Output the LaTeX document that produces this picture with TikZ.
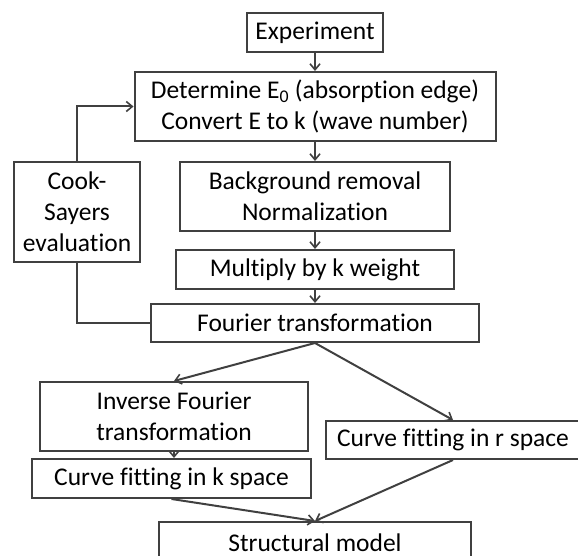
\documentclass[tikz,border=0pt]{standalone}
\usepackage{fontspec}
\setmainfont{Carlito}[Ligatures=NoCommon]
\usetikzlibrary{arrows.meta}
\definecolor{lc}{HTML}{404040}
\tikzset{
  box/.style={draw=lc, line width=2pt, inner sep=0pt, align=center, font=\fontsize{25.5}{31}\selectfont, text=black},
  arr/.style={draw=lc, line width=2pt, -{Straight Barb[length=6pt,width=10pt,line width=1.6pt]}},
  ln/.style={draw=lc, line width=2pt}
}
\begin{document}
\begin{tikzpicture}[x=1pt,y=-1pt]
\useasboundingbox (0,0) rectangle (578,556);
\clip (0,0) rectangle (578,556);
\node[box, minimum width=136pt, minimum height=39pt] (exp) at (315,32.5) {Experiment};
\node[box, minimum width=361pt, minimum height=69pt] (det) at (315,106.5) {Determine E\textsubscript{0} (absorption edge)\\Convert E to k (wave number)};
\node[box, minimum width=270pt, minimum height=69pt] (bg) at (315,196.5) {Background removal\\Normalization};
\node[box, minimum width=278pt, minimum height=39pt] (mul) at (315,269.5) {Multiply by k weight};
\node[box, minimum width=328pt, minimum height=38pt] (four) at (315,323) {Fourier transformation};
\node[box, minimum width=126pt, minimum height=100pt] (cook) at (77,212) {Cook-\\Sayers\\evaluation};
\node[box, minimum width=268pt, minimum height=69pt] (inv) at (174,416.5) {Inverse Fourier\\transformation};
\node[box, minimum width=279pt, minimum height=39pt] (ck) at (171.5,478.5) {Curve fitting in k space};
\node[box, minimum width=254pt, minimum height=38pt] (cr) at (453,440) {Curve fitting in r space};
\node[box, minimum width=312pt, minimum height=46pt] (sm) at (315,545) {};
\node[font=\fontsize{25.5}{31}\selectfont, anchor=base, inner sep=0pt] (smt) at (315,551) {Structural model};
\draw[arr] (exp.south) -- (det.north);
\draw[arr] (det.south) -- (bg.north);
\draw[arr] (bg.south) -- (mul.north);
\draw[arr] (mul.south) -- (four.north);
\draw[arr] (cook.north) |- (det.west);
\draw[ln] (four.west) -| (cook.south);
\draw[arr] (four.south) -- (inv.north);
\draw[arr] (four.south) -- (cr.north);
\draw[arr] (inv.south) -- (inv.south |- ck.north);
\draw[arr] (ck.south) -- (sm.north);
\draw[arr] (cr.south) -- (sm.north);
\end{tikzpicture}
\end{document}
